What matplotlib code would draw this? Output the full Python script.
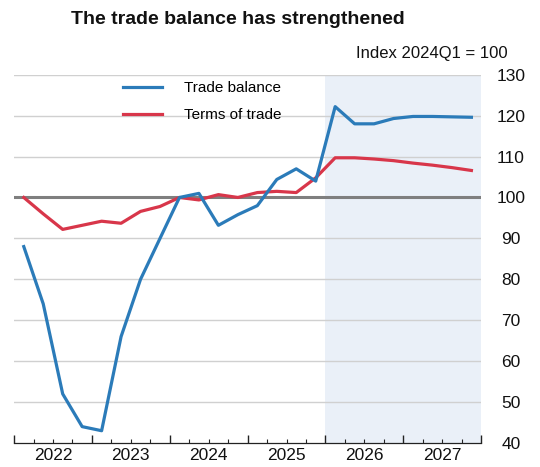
import matplotlib
matplotlib.use("Agg")
import matplotlib.pyplot as plt
import numpy as np

plt.rcParams['font.family'] = ['Liberation Sans', 'DejaVu Sans']

# Quarterly data 2022Q1 .. 2027Q4
quarters = [f"{y}Q{q}" for y in range(2022, 2028) for q in range(1, 5)]
trade_balance = [88, 74, 52, 44, 43, 66, 80, 90,
                 100, 101, 93.2, 95.8, 98, 104.4, 107, 104,
                 122.2, 118, 118, 119.3, 119.8, 119.8, 119.7, 119.6]
terms_of_trade = [100, 96, 92.2, 93.2, 94.2, 93.7, 96.6, 97.8,
                  100, 99.4, 100.7, 100, 101.2, 101.5, 101.2, 104.8,
                  109.7, 109.7, 109.4, 109.0, 108.4, 107.9, 107.3, 106.6]
year_labels = ["2022", "2023", "2024", "2025", "2026", "2027"]
y_ticks = [40, 50, 60, 70, 80, 90, 100, 110, 120, 130]
forecast_start, forecast_end = 2026.0, 2028.0

x = np.array([int(q[:4]) + (int(q[-1]) - 1) * 0.25 + 0.125 for q in quarters])

fig = plt.figure(figsize=(5.4, 4.67), dpi=100)
ax = fig.add_axes([0.026, 0.0514, 0.865, 0.7886])

blue = "#2b7bb9"
red = "#d8364a"

ax.axvspan(forecast_start, forecast_end, color="#eaf0f8", zorder=0, lw=0)
for yv in y_ticks[1:]:
    if yv == 100:
        continue
    ax.axhline(yv, color="#d0d0d0", lw=1.0, zorder=1)
ax.axhline(100, color="#7f7f7f", lw=2.2, zorder=2)

ax.plot(x, trade_balance, color=blue, lw=2.3, zorder=4, label="Trade balance",
        solid_joinstyle="round")
ax.plot(x, terms_of_trade, color=red, lw=2.3, zorder=3, label="Terms of trade",
        solid_joinstyle="round")

ax.set_xlim(2022, 2028)
ax.set_ylim(40, 130)

for s in ["top", "left", "right"]:
    ax.spines[s].set_visible(False)
ax.spines["bottom"].set_color("#222222")
ax.spines["bottom"].set_linewidth(0.9)

years = list(range(2022, 2029))
ax.set_xticks(years)
ax.set_xticklabels([""] * len(years))
ax.set_xticks(np.arange(2022, 2028.01, 0.25), minor=True)
ax.tick_params(axis="x", which="major", direction="in", length=6, width=1, color="#222222")
ax.tick_params(axis="x", which="minor", direction="in", length=3, width=0.8, color="#222222")
for i, lab in enumerate(year_labels):
    ax.text(2022.5 + i, -0.035, lab, transform=ax.get_xaxis_transform(),
            ha="center", va="center", fontsize=12.5, color="#111111")

ax.yaxis.tick_right()
ax.set_yticks(y_ticks)
ax.set_yticklabels([str(v) for v in y_ticks])
ax.tick_params(axis="y", which="both", length=0, pad=21.5, labelsize=12.5, labelcolor="#111111")
for t in ax.get_yticklabels():
    t.set_horizontalalignment("center")

leg = ax.legend(loc="upper left", bbox_to_anchor=(0.203, 1.02), frameon=False,
                fontsize=11, handlelength=2.6, handletextpad=1.45, labelspacing=0.85)

fig.text(0.44, 0.958, "The trade balance has strengthened", ha="center", va="center",
         fontsize=14, fontweight="bold", color="#111111")
fig.text(0.94, 0.886, "Index 2024Q1 = 100", ha="right", va="center",
         fontsize=12, color="#111111")

fig.savefig("out.png", dpi=100)
